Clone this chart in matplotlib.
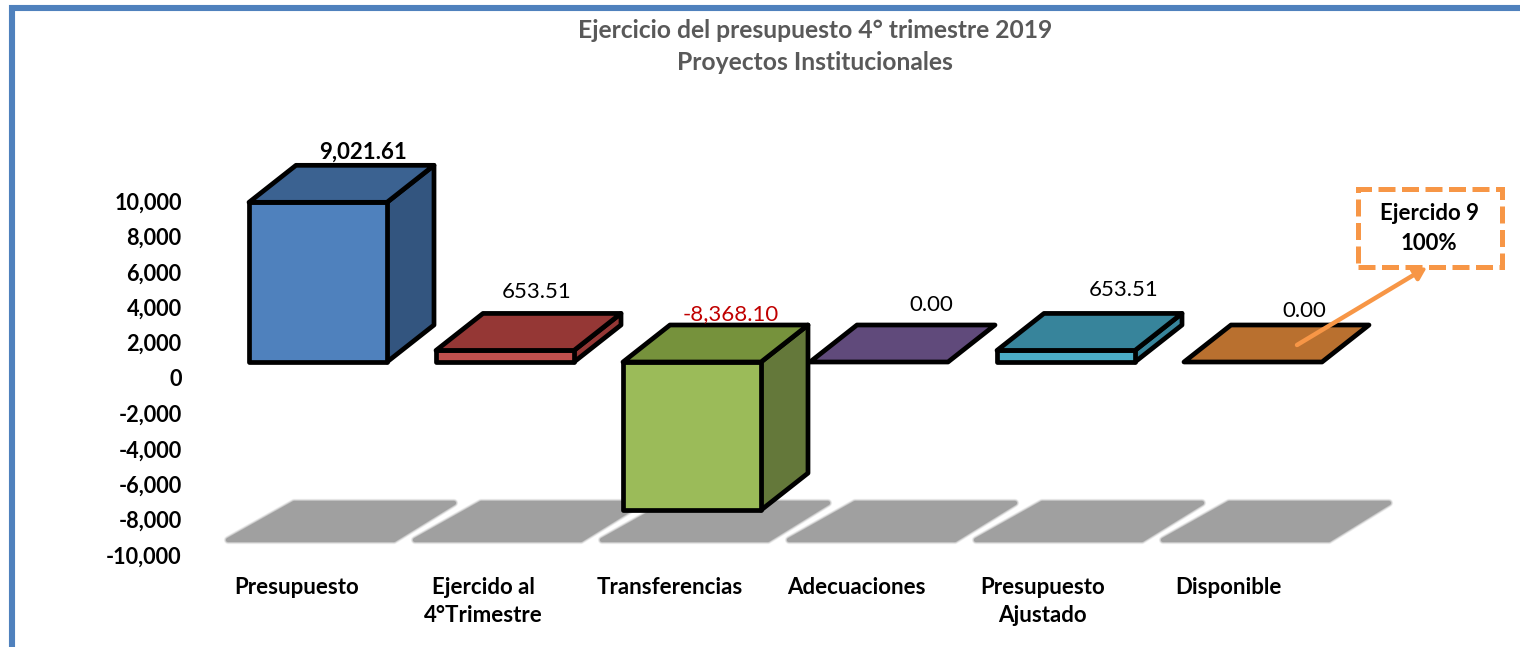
from matplotlib import pyplot
from matplotlib.patches import Polygon, Rectangle

pyplot.rcParams['font.family'] = ['Lato', 'DejaVu Sans']

categories = ['Presupuesto', 'Ejercido al\n4°Trimestre', 'Transferencias', 'Adecuaciones', 'Presupuesto\nAjustado', 'Disponible']
values = [9021.61, 653.51, -8368.10, 0.00, 653.51, 0.00]
value_labels = ['9,021.61', '653.51', '-8,368.10', '0.00', '653.51', '0.00']
y_ticks = [10000, 8000, 6000, 4000, 2000, 0, -2000, -4000, -6000, -8000, -10000]
y_tick_labels = ['10,000', '8,000', '6,000', '4,000', '2,000', '0', '-2,000', '-4,000', '-6,000', '-8,000', '-10,000']

front_colors = ['#4f81bd', '#c0504d', '#9bbb59', '#8064a2', '#4bacc6', '#f79646']
top_colors = ['#3b6291', '#953735', '#76923c', '#604a7b', '#37849b', '#b9702f']
side_colors = ['#33557f', '#953735', '#64783a', '#604a7b', '#37849b', '#b9702f']

# label offsets from the bar centre / back edge, in pixels
label_dx = [45, 32, 39, 52, 58, 51]
label_dy = [13, 21, 11, 20, 23, 14]
label_colors = ['black', 'black', '#c00000', 'black', 'black', 'black']
label_weights = ['bold', 'normal', 'normal', 'normal', 'normal', 'normal']

W, H = 1520, 647
px_y = 17.7 / 1000   # pixels per unit
px_x = 187           # pixels per category
bar_w = 138 / px_x
depth_x = 47 / px_x
depth_y = 37 / px_y
base = 16 / px_y     # front plane sits above the axis zero
floor_lo, floor_hi = -9322, -6890
inset_y = 3 / px_y

fig = pyplot.figure(figsize=(W / 100, H / 100), dpi=100)
ax = fig.add_axes([190 / W, 1 - 555 / H, 1210 / W, 354 / H])
ax.set_xlim((190 - 318) / px_x, (1400 - 318) / px_x)
ax.set_ylim(-10000, 10000)
for s in ax.spines.values():
    s.set_visible(False)
ax.patch.set_alpha(0)

ax.set_yticks(y_ticks)
ax.set_yticklabels(y_tick_labels, fontsize=15.6, fontweight='bold')
ax.set_xticks([i * 186.3 / px_x - 21 / px_x for i in range(len(categories))])
ax.set_xticklabels(categories, fontsize=16, fontweight='bold', linespacing=1.42)
ax.tick_params(axis='y', length=0, pad=6)
ax.tick_params(axis='x', length=0, pad=15.5)


def face(pts, color, z):
    ax.add_patch(Polygon(pts, closed=True, fc=color, ec='black', lw=3.4, joinstyle='round', zorder=z, clip_on=False))


# grey floor shadows: inset polygon with round strokes for soft corners
for i in range(len(categories)):
    x0 = i - 90 / px_x
    x1 = i + 76 / px_x
    sx = 60 / px_x
    pts = [(x0, floor_lo + inset_y), (x1, floor_lo + inset_y), (x1 + sx, floor_hi - inset_y), (x0 + sx + 6 / px_x, floor_hi - inset_y)]
    for lw, a in [(6, 0.15), (5, 0.25), (4, 0.4)]:
        ax.add_patch(Polygon(pts, closed=True, fc='none', ec='#a0a0a0', lw=lw, alpha=a, joinstyle='round', zorder=1, clip_on=False))
    ax.add_patch(Polygon(pts, closed=True, fc='#a0a0a0', ec='#a0a0a0', lw=3, joinstyle='round', zorder=1, clip_on=False))

# the pseudo 3d boxes
for i, v in enumerate(values):
    left = i - bar_w / 2
    right = i + bar_w / 2
    top = base + max(v, 0)
    bot = base + min(v, 0)
    z = 3 + i
    if top != bot:
        face([(right, top), (right + depth_x, top + depth_y), (right + depth_x, bot + depth_y), (right, bot)], side_colors[i], z)
        face([(left, bot), (right, bot), (right, top), (left, top)], front_colors[i], z)
    face([(left, top), (right, top), (right + depth_x, top + depth_y), (left + depth_x, top + depth_y)], top_colors[i], z)
    ax.annotate(value_labels[i], (i, top + depth_y), xytext=(label_dx[i] * 0.72, label_dy[i] * 0.72),
                textcoords='offset points', ha='center', va='center', fontsize=16,
                color=label_colors[i], fontweight=label_weights[i], zorder=20, annotation_clip=False)


def fx(x):
    return x / W


def fy(y):
    return 1 - y / H


# blue frame, runs off the right and bottom
fig.add_artist(Rectangle((fx(12), fy(H + 30)), fx(W + 30), (H + 22) / H, transform=fig.transFigure,
                         fc='none', ec='#4f81bd', lw=4.4, zorder=0))

fig.text(fx(815), fy(31), 'Ejercicio del presupuesto 4° trimestre 2019', ha='center', va='center',
         fontsize=17.7, fontweight='bold', color='#595959')
fig.text(fx(815), fy(63), 'Proyectos Institucionales', ha='center', va='center',
         fontsize=17.7, fontweight='bold', color='#595959')

# callout
fig.add_artist(Rectangle((fx(1358), fy(267)), 144 / W, 78 / H, transform=fig.transFigure, fc='white',
                         ec='#f79646', lw=3.6, linestyle=(0, (3.4, 1.3)), zorder=5))
fig.text(fx(1429), fy(214), 'Ejercido 9', ha='center', va='center', fontsize=16, fontweight='bold', zorder=6)
fig.text(fx(1429), fy(244), '100%', ha='center', va='center', fontsize=16, fontweight='bold', zorder=6)
ax.annotate('', xy=(fx(1427), fy(267)), xytext=(fx(1297), fy(345)), xycoords='figure fraction',
            textcoords='figure fraction', zorder=30,
            arrowprops=dict(arrowstyle='-|>,head_length=0.7,head_width=0.4', color='#f79646', lw=3.2, shrinkA=0, shrinkB=0))

fig.savefig('out.png', dpi=100)
